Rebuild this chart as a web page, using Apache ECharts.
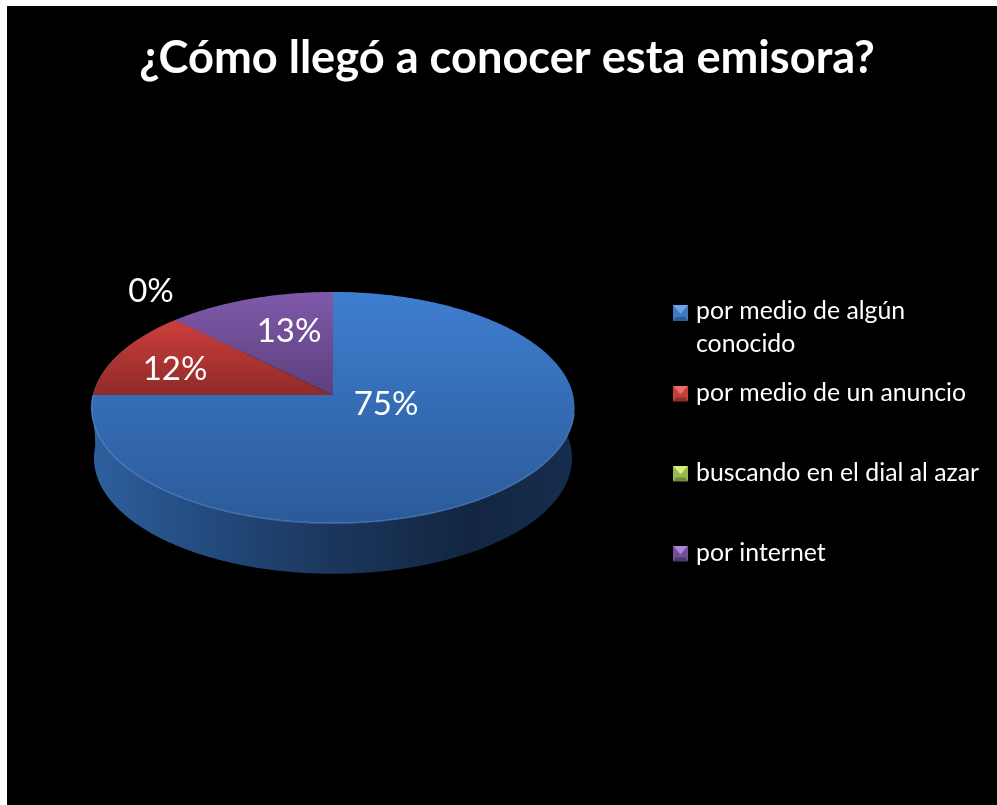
<!DOCTYPE html>
<html><head><meta charset="utf-8">
<style>html,body{margin:0;padding:0;background:#fff}#c{width:997px;height:805px}</style>
<script src="https://cdn.jsdelivr.net/npm/echarts@6/dist/echarts.min.js"></script>
</head><body><div id="c"></div>
<script>
const titleText = '¿Cómo llegó a conocer esta emisora?';
const categories = ['por medio de algún conocido', 'por medio de un anuncio', 'buscando en el dial al azar', 'por internet'];
const values = [75, 12.5, 0, 12.5];
const percentLabels = ['75%', '12%', '0%', '13%'];

// Styling and layout (not data)
const topColors = [['#3e7ecf', '#2b5a99'], ['#cd3e3b', '#8e2b29'], ['#9bbb59', '#6f8a3c'], ['#8059aa', '#5d3f7d']];
const markerColors = [['#6aa5ea', '#3f78bd', '#2c5a93'], ['#f06a66', '#c2403c', '#8f2d2a'], ['#d8f07a', '#9ab850', '#6f8a3a'], ['#a985d8', '#6f4f96', '#4e3570']];
const labelAt = [[386, 404], [175, 369], [151, 291], [289, 331]];
const legendTop = [295, 377, 457, 537];
const apex = { x: 333, y: 395 }, RX = 240, RY = 114.2, K = 0.1087, DEPTH = 51, BASE_SCALE = 0.99;

const total = values.reduce((a, b) => a + b, 0);
function rim(theta, scale, dy) {
  const u = Math.sin(theta), v = Math.cos(theta), w = 1 + K * v;
  return [apex.x + scale * RX * u / w, apex.y + dy - RY * v / w + (scale - 1) * 40];
}
function arc(a0, a1, scale, dy) {
  const pts = [], n = Math.max(2, Math.ceil(Math.abs(a1 - a0) / 0.01));
  for (let i = 0; i <= n; i++) pts.push(rim(a0 + (a1 - a0) * i / n, scale, dy));
  return pts;
}
const startAngle = values.map((_, i) => values.slice(0, i).reduce((a, b) => a + b, 0) / total * 2 * Math.PI);

function renderSlice(i) {
  return function (params, api) {
    const val = api.value(0);
    const a0 = startAngle[i], a1 = a0 + val / total * 2 * Math.PI;
    const children = [];
    if (val > 0) {
      const top = arc(a0, a1, 1, 0);
      const base = arc(a0, a1, BASE_SCALE, DEPTH);
      children.push({
        type: 'polygon', z2: 1,
        shape: { points: top.concat(base.slice().reverse()) },
        style: { fill: new echarts.graphic.LinearGradient(93, 0, 574, 0, [
          { offset: 0, color: '#2e5f9d' }, { offset: 0.22, color: '#244c80' },
          { offset: 0.5, color: '#1b365d' }, { offset: 0.78, color: '#122641' },
          { offset: 1, color: '#172d4e' }], true) }
      });
      children.push({
        type: 'polygon', z2: 2,
        shape: { points: [[apex.x, apex.y]].concat(top) },
        style: { fill: new echarts.graphic.LinearGradient(0, 0, 0, 1, [
          { offset: 0, color: topColors[i][0] }, { offset: 1, color: topColors[i][1] }]) }
      });
      const frontA = Math.max(a0, Math.PI * 0.55), frontB = Math.min(a1, Math.PI * 1.5);
      if (frontB > frontA) {
        children.push({
          type: 'polyline', z2: 3,
          shape: { points: arc(frontA, frontB, 1, 0) },
          style: { fill: 'none', stroke: 'rgba(110,165,235,0.45)', lineWidth: 1.5 }
        });
      }
    }
    children.push({
      type: 'text', z2: 5,
      style: { x: labelAt[i][0], y: labelAt[i][1], text: percentLabels[i], fill: '#fff',
        font: '33px Lato', textAlign: 'center', textVerticalAlign: 'middle' }
    });
    return { type: 'group', children };
  };
}

function markerIcon(i, h, off) {
  const c = markerColors[i], W = 15, S = 16;
  const svg = `<svg xmlns="http://www.w3.org/2000/svg" width="${W}" height="${h}" viewBox="0 0 ${W} ${h}">` +
    `<rect y="${off}" width="${W}" height="${S}" fill="${c[1]}"/>` +
    `<polygon points="0,${off} ${W},${off} ${W / 2},${off + 9}" fill="${c[0]}"/>` +
    `<polygon points="0,${off + S} ${W},${off + S} ${W - 3},${off + S - 4} 3,${off + S - 4}" fill="${c[2]}"/></svg>`;
  return 'image://data:image/svg+xml;charset=utf-8,' + encodeURIComponent(svg);
}

const chart = echarts.init(document.getElementById('c'), null, { renderer: 'canvas', width: 997, height: 805 });
chart.setOption({
  animation: false,
  backgroundColor: '#fff',
  graphic: [{ type: 'rect', z: -10, silent: true, shape: { x: 7, y: 6, width: 990, height: 799 }, style: { fill: '#000' } }],
  title: { text: titleText, left: 502, top: 31, textAlign: 'center',
    textStyle: { color: '#fff', fontFamily: 'Lato', fontWeight: 'bold', fontSize: 45.2 } },
  legend: categories.map((name, i) => ({
    left: 673, top: legendTop[i], orient: 'vertical', selectedMode: false, padding: 0,
    itemWidth: 15, itemHeight: i === 0 ? 58 : 26, itemGap: 0,
    data: [{ name, icon: i === 0 ? markerIcon(i, 58, 6) : markerIcon(i, 16, 0) }],
    formatter: n => n === categories[0] ? 'por medio de algún\nconocido' : n,
    textStyle: { color: '#fff', fontFamily: 'Lato', fontSize: 24.8, lineHeight: 33, padding: [0, 0, 0, 3] }
  })),
  series: categories.map((name, i) => ({
    type: 'custom', name, coordinateSystem: 'none', silent: true,
    renderItem: renderSlice(i), data: [[values[i]]], clip: false
  }))
});
</script></body></html>
